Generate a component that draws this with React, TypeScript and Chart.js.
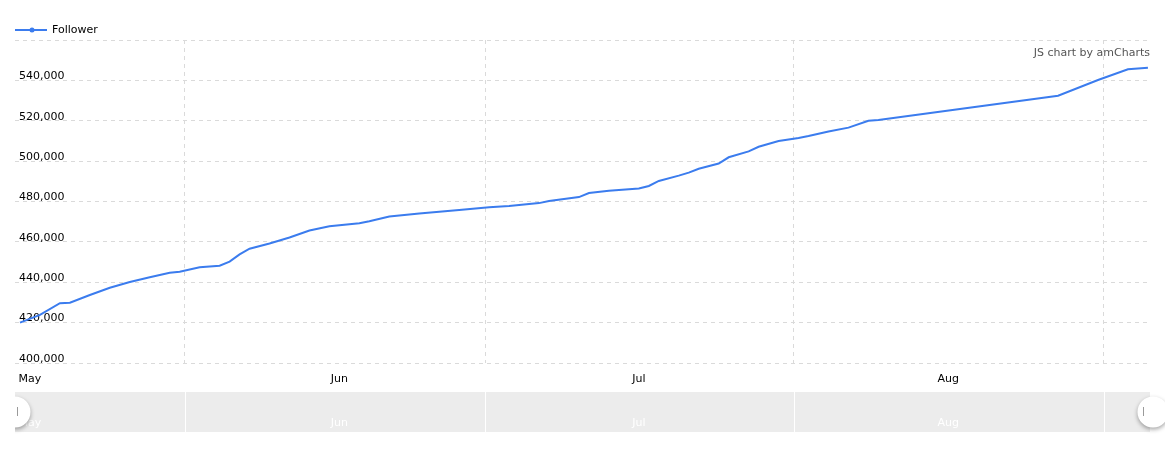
import React, { useEffect, useRef } from "react";
import { Chart, registerables } from "chart.js";

Chart.register(...registerables);

// ---- data ----
const dates = [
  "2019-04-30", "2019-05-02", "2019-05-04", "2019-05-05", "2019-05-07", "2019-05-09",
  "2019-05-11", "2019-05-13", "2019-05-15", "2019-05-16", "2019-05-18", "2019-05-20",
  "2019-05-21", "2019-05-22", "2019-05-23", "2019-05-25", "2019-05-27", "2019-05-29",
  "2019-05-31", "2019-06-03", "2019-06-04", "2019-06-06", "2019-06-09", "2019-06-13",
  "2019-06-16", "2019-06-18", "2019-06-21", "2019-06-22", "2019-06-25", "2019-06-26",
  "2019-06-28", "2019-06-29", "2019-07-01", "2019-07-02", "2019-07-03", "2019-07-05",
  "2019-07-06", "2019-07-07", "2019-07-09", "2019-07-10", "2019-07-12", "2019-07-13",
  "2019-07-15", "2019-07-17", "2019-07-18", "2019-07-20", "2019-07-22", "2019-07-24",
  "2019-07-25", "2019-08-12", "2019-08-16", "2019-08-19", "2019-08-21",
];
const followers = [
  420000, 423800, 429600, 429900, 433700, 437300,
  440100, 442500, 444700, 445200, 447400, 448200,
  450200, 453800, 456600, 459200, 462200, 465600,
  467700, 469200, 470200, 472600, 474000, 475800,
  477100, 477800, 479200, 480200, 482200, 484200,
  485300, 485700, 486400, 487700, 490200, 492800,
  494300, 496200, 498800, 501900, 504800, 507100,
  510000, 511500, 512400, 514700, 516600, 520000,
  520400, 532400, 540200, 545500, 546300,
];
const seriesName = "Follower";
const monthStartDates = ["2019-05-01", "2019-06-01", "2019-07-01", "2019-08-01"];
const monthLabels = ["May", "Jun", "Jul", "Aug"];
const gridDates = ["2019-05-16T12:00", "2019-06-15T15:00", "2019-07-16T12:00", "2019-08-16T14:00"];
const xRangeDates = ["2019-04-29T12:00", "2019-08-21T05:00"];
const yMin = 400000;
const yMax = 560000;
const yStep = 20000;

const ORIGIN = Date.UTC(2019, 4, 1);
const toDay = (s: string) => {
  const [d, t] = s.split("T");
  const [Y, M, D] = d.split("-").map(Number);
  let h = 0;
  if (t) h = Number(t.split(":")[0]);
  return (Date.UTC(Y, M - 1, D, h) - ORIGIN) / 86400000;
};

const FONT = "DejaVu Sans";
const LINE_COLOR = "#3b7cee";
const GRID_COLOR = "#dadada";

const monthDays = monthStartDates.map(toDay);
const gridDays = gridDates.map(toDay);

const overlayPlugin = {
  id: "overlay",
  beforeDraw(chart: any) {
    const { ctx, chartArea } = chart;
    ctx.save();
    ctx.beginPath();
    ctx.rect(0, 0, chartArea.right + 0.5, chart.height);
    ctx.clip();
  },
  afterDatasetsDraw(chart: any) {
    chart.ctx.restore();
  },
  afterDraw(chart: any) {
    const { ctx, chartArea, scales } = chart;
    const xs = scales.x;
    ctx.save();
    ctx.font = `11px "${FONT}"`;
    ctx.textBaseline = "middle";

    // legend
    const ly = 22;
    ctx.strokeStyle = LINE_COLOR;
    ctx.lineWidth = 2;
    ctx.beginPath();
    ctx.moveTo(chartArea.left, ly);
    ctx.lineTo(chartArea.left + 32, ly);
    ctx.stroke();
    ctx.fillStyle = LINE_COLOR;
    ctx.beginPath();
    ctx.arc(chartArea.left + 17, ly, 2.5, 0, Math.PI * 2);
    ctx.fill();
    ctx.fillStyle = "#000";
    ctx.textAlign = "left";
    ctx.fillText(seriesName, chartArea.left + 37, ly);

    // credit
    ctx.fillStyle = "#555";
    ctx.textAlign = "right";
    ctx.fillText("JS chart by amCharts", chartArea.right, chartArea.top + 13);

    // scrollbar
    const top = chartArea.bottom + 29;
    const h = 40;
    const left = chartArea.left;
    const right = chartArea.right;
    ctx.fillStyle = "#ececec";
    ctx.fillRect(left, top, right - left, h);
    ctx.strokeStyle = "#ffffff";
    ctx.lineWidth = 1;
    gridDays.forEach((d) => {
      const px = Math.round(xs.getPixelForValue(d)) + 0.5;
      ctx.beginPath();
      ctx.moveTo(px, top);
      ctx.lineTo(px, top + h);
      ctx.stroke();
    });
    ctx.fillStyle = "#ffffff";
    ctx.textAlign = "center";
    monthDays.forEach((d, i) => {
      ctx.fillText(monthLabels[i], xs.getPixelForValue(d), top + 31);
    });

    // grips
    const drawGrip = (cx: number, clipLeft: number | null, lineX: number) => {
      ctx.save();
      if (clipLeft !== null) {
        ctx.beginPath();
        ctx.rect(clipLeft, top - 20, 100, h + 40);
        ctx.clip();
      }
      ctx.shadowColor = "rgba(0,0,0,0.35)";
      ctx.shadowBlur = 4;
      ctx.shadowOffsetY = 2;
      ctx.fillStyle = "#ffffff";
      ctx.beginPath();
      ctx.arc(cx, top + 20, 15.5, 0, Math.PI * 2);
      ctx.fill();
      ctx.restore();
      ctx.strokeStyle = "#9a9a9a";
      ctx.lineWidth = 1;
      ctx.beginPath();
      ctx.moveTo(lineX + 0.5, top + 15);
      ctx.lineTo(lineX + 0.5, top + 24);
      ctx.stroke();
    };
    drawGrip(left, left, left + 2);
    drawGrip(right + 3, null, right - 7);

    ctx.restore();
  },
};

export default function App() {
  const ref = useRef<HTMLCanvasElement | null>(null);
  useEffect(() => {
    if (!ref.current) return;
    Chart.defaults.font.family = FONT;
    Chart.defaults.font.size = 11;
    const points = dates.map((d, i) => ({ x: toDay(d), y: followers[i] }));
    const chart = new Chart(ref.current, {
      type: "line",
      data: {
        datasets: [
          {
            label: seriesName,
            data: points,
            borderColor: LINE_COLOR,
            borderWidth: 2,
            pointRadius: 0,
            pointHoverRadius: 0,
            fill: false,
            tension: 0,
          },
        ],
      },
      options: {
        animation: false,
        responsive: false,
        events: [],
        layout: { padding: { left: 7, right: 15, top: 32, bottom: 53 } },
        plugins: { legend: { display: false }, tooltip: { enabled: false } },
        scales: {
          x: {
            type: "linear",
            min: toDay(xRangeDates[0]),
            max: toDay(xRangeDates[1]),
            afterBuildTicks: (s: any) => {
              const all = [...monthDays, ...gridDays].sort((a, b) => a - b);
              s.ticks = all.map((v) => ({ value: v }));
            },
            afterFit: (s: any) => {
              s.height = 30;
            },
            ticks: {
              autoSkip: false,
              maxRotation: 0,
              minRotation: 0,
              padding: 10,
              color: "#000",
              font: { family: FONT, size: 11 },
              callback: (v: any) => {
                const i = monthDays.findIndex((m) => Math.abs(m - Number(v)) < 1e-6);
                return i >= 0 ? monthLabels[i] : "";
              },
            },
            grid: {
              drawTicks: false,
              color: (c: any) => {
                const v = c.tick ? c.tick.value : NaN;
                return gridDays.some((g) => Math.abs(g - v) < 1e-6) ? GRID_COLOR : "rgba(0,0,0,0)";
              },
              lineWidth: 1,
            },
            border: { display: false, dash: [4, 4] },
          },
          y: {
            type: "linear",
            min: yMin,
            max: yMax,
            afterFit: (s: any) => {
              s.width = 0;
            },
            ticks: {
              stepSize: yStep,
              mirror: true,
              padding: 4,
              labelOffset: -4,
              color: "#000",
              font: { family: FONT, size: 11 },
              callback: (v: any) => (Number(v) === yMax ? "" : Number(v).toLocaleString("en-US")),
            },
            grid: { drawTicks: false, color: GRID_COLOR, lineWidth: 1 },
            border: { display: false, dash: [4, 4] },
          },
        },
      },
      plugins: [overlayPlugin],
    });
    return () => chart.destroy();
  }, []);
  return (
    <div style={{ width: 1157, height: 438 }}>
      <canvas ref={ref} width={1157} height={438} style={{ display: "block" }} />
    </div>
  );
}
